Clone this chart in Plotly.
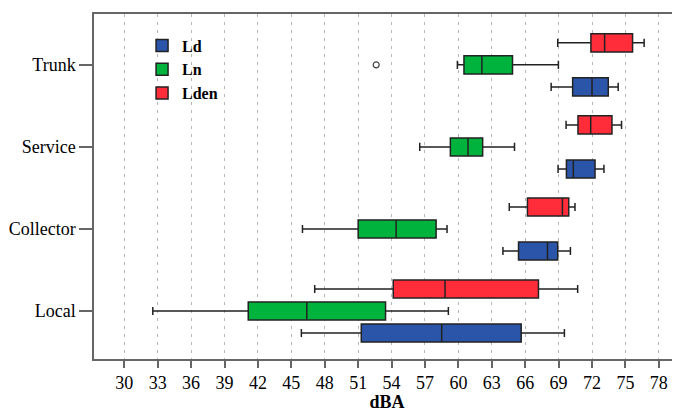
import plotly.graph_objects as go

categories = ["Local", "Collector", "Service", "Trunk"]
x_ticks = list(range(30, 79, 3))

ld_low = [45.9, 64.0, 68.95, 68.33]
ld_q1 = [51.28, 65.4, 69.7, 70.26]
ld_med = [58.5, 68.0, 70.32, 72.0]
ld_q3 = [65.64, 68.92, 72.27, 73.46]
ld_up = [69.52, 70.06, 73.07, 74.35]

ln_low = [32.56, 46.0, 56.53, 59.91]
ln_q1 = [41.13, 51.0, 59.28, 60.5]
ln_med = [46.39, 54.41, 60.86, 62.11]
ln_q3 = [53.46, 58.0, 62.18, 64.86]
ln_up = [59.1, 58.98, 65.04, 68.98]

lden_low = [47.1, 64.57, 69.67, 68.92]
lden_q1 = [54.15, 66.2, 70.74, 71.9]
lden_med = [58.8, 69.34, 71.88, 73.13]
lden_q3 = [67.19, 69.91, 73.79, 75.64]
lden_up = [70.71, 70.47, 74.65, 76.68]

outlier_cat = ["Trunk"]
outlier_val = [52.62]

series = [
    ("Ld", "#2A55A8", ld_low, ld_q1, ld_med, ld_q3, ld_up),
    ("Ln", "#00B33C", ln_low, ln_q1, ln_med, ln_q3, ln_up),
    ("Lden", "#FF2D3A", lden_low, lden_q1, lden_med, lden_q3, lden_up),
]

fig = go.Figure()
for name, color, lo, q1, med, q3, up in series:
    fig.add_trace(go.Box(
        name=name, y=categories, orientation="h",
        lowerfence=lo, q1=q1, median=med, q3=q3, upperfence=up,
        fillcolor=color, line=dict(color="#222222", width=1.5),
        whiskerwidth=0.45, boxpoints=False,
    ))

fig.add_trace(go.Scatter(
    x=outlier_val, y=outlier_cat, mode="markers", showlegend=False,
    marker=dict(symbol="circle-open", size=6, color="#444444", line=dict(width=1.2)),
))

fig.update_layout(
    width=672, height=404,
    margin=dict(l=86, r=0, t=6, b=53),
    paper_bgcolor="white", plot_bgcolor="white",
    boxmode="group", boxgap=0.195, boxgroupgap=0.18,
    font=dict(family="Liberation Serif", size=18, color="black"),
    showlegend=True,
    legend=dict(x=0.082, y=0.958, xanchor="left", yanchor="top",
                font=dict(family="Liberation Serif", size=16, color="black", weight="bold"),
                bgcolor="rgba(0,0,0,0)", traceorder="normal"),
    xaxis=dict(
        range=[27.28, 79.9], tickvals=x_ticks, ticktext=[str(v) for v in x_ticks],
        automargin=False,
        showgrid=True, gridcolor="#b5b5b5", griddash="3px,5px", gridwidth=1,
        showline=True, linecolor="#666666", linewidth=1.5, mirror=True,
        ticks="outside", ticklen=7, tickwidth=1.5, tickcolor="#666666",
        zeroline=False,
        title=dict(text="<b>dBA</b>", font=dict(size=18), standoff=4),
    ),
    yaxis=dict(
        type="category", categoryorder="array", categoryarray=categories,
        range=[-0.585, 3.62], automargin=False,
        showgrid=False, zeroline=False,
        showline=True, linecolor="#666666", linewidth=1.5,
        ticks="outside", ticklen=13, tickwidth=1.5, tickcolor="#666666",
    ),
)

fig.write_html("out.html")
